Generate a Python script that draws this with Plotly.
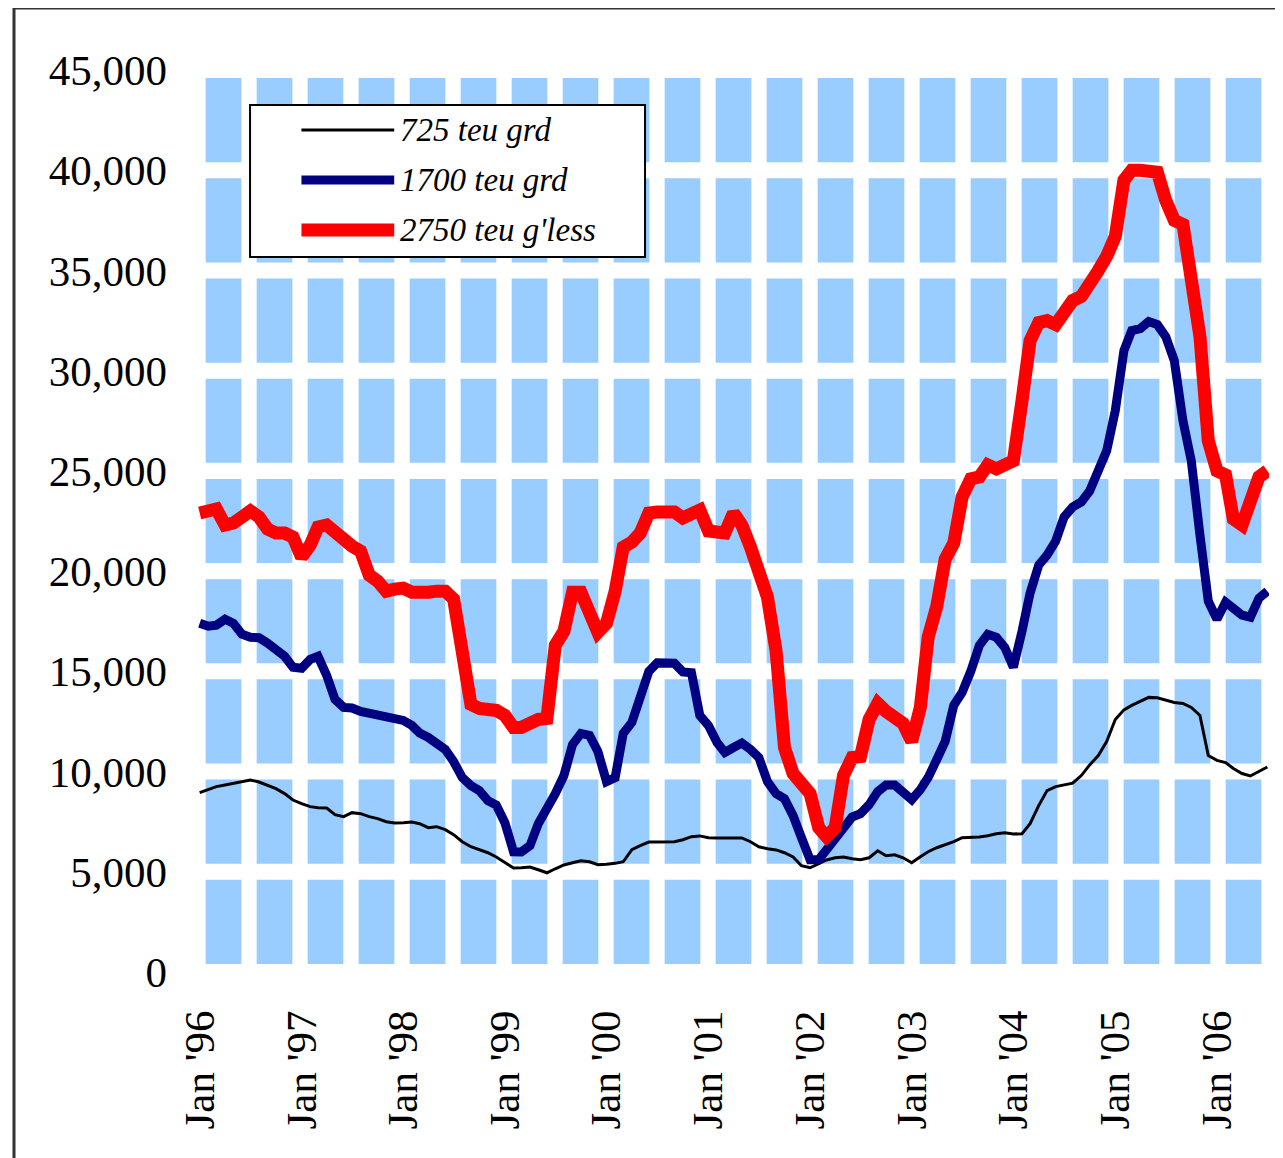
import pandas as pd
import plotly.graph_objects as go

# Monthly observations, Jan 1996 .. Jul 2006 (127 months)
months = pd.date_range("1996-01-01", periods=127, freq="MS")

teu725 = [
    8950, 9100, 9250, 9330, 9400, 9500, 9580, 9480, 9300, 9150, 8900, 8580,   # 1996
    8400, 8250, 8200, 8180, 7850, 7750, 7950, 7900, 7750, 7650, 7500, 7430,   # 1997
    7450, 7480, 7400, 7200, 7250, 7100, 6850, 6500, 6250, 6090, 5950, 5740,   # 1998
    5450, 5190, 5200, 5240, 5100, 4950, 5150, 5340, 5450, 5550, 5500, 5350,   # 1999
    5380, 5420, 5500, 6100, 6300, 6480, 6490, 6490, 6500, 6600, 6750, 6790,   # 2000
    6700, 6690, 6690, 6690, 6690, 6500, 6250, 6150, 6090, 5950, 5740, 5300,   # 2001
    5200, 5400, 5590, 5700, 5740, 5650, 5600, 5700, 6050, 5800, 5850, 5700,   # 2002
    5450, 5750, 6000, 6200, 6350, 6500, 6700, 6720, 6740, 6800, 6900, 6950,   # 2003
    6880, 6900, 7400, 8300, 9050, 9250, 9320, 9420, 9800, 10330, 10800, 11500,  # 2004
    12600, 13080, 13300, 13500, 13700, 13680, 13550, 13450, 13400, 13200, 12800, 10800,  # 2005
    10560, 10450, 10150, 9900, 9780, 10000, 10230,                           # 2006
]

teu1700 = [
    17400, 17250, 17300, 17600, 17400, 16850, 16700, 16680, 16400, 16050, 15750, 15200,
    15150, 15600, 15750, 14800, 13600, 13200, 13170, 13000, 12900, 12830, 12750, 12680,
    12550, 12300, 11920, 11700, 11400, 11100, 10500, 9700, 9300, 9050, 8550, 8330,
    7450, 6000, 5990, 6300, 7400, 8100, 8900, 9800, 11350, 11900, 11800, 11000,
    9500, 9700, 11900, 12450, 13800, 15000, 15420, 15420, 15400, 14970, 14930, 12800,
    12300, 11450, 10950, 11200, 11420, 11100, 10700, 9500, 8900, 8650, 7800, 6700,
    5600, 5600, 6100, 6550, 7100, 7730, 7900, 8350, 9000, 9330, 9330, 9000,
    8600, 9100, 9700, 10600, 11500, 13300, 13950, 15000, 16300, 16850, 16700, 16200,
    15200, 17000, 18900, 20300, 20800, 21500, 22700, 23200, 23450, 24000, 24900, 26000,
    28000, 31000, 32000, 32100, 32450, 32300, 31700, 30500, 27500, 25500, 21800, 18500,
    17600, 18450, 18150, 17800, 17700, 18650, 19000,
]

teu2750 = [
    22900, 23000, 23100, 22300, 22400, 22700, 23000, 22700, 22100, 21900, 21900, 21700,
    20700, 21300, 22200, 22300, 21900, 21450, 21250, 21000, 19800, 19500, 19000, 19100,
    19150, 18950, 18900, 18950, 19000, 19000, 18600, 16000, 13350, 13150, 13100, 13050,
    12800, 12200, 12200, 12450, 12600, 12650, 16300, 17000, 18950, 18950, 17700, 16950,
    17400, 19000, 21200, 21450, 21900, 22900, 22950, 22950, 22950, 22650, 22900, 23050,
    22000, 21900, 21900, 22900, 22300, 21200, 19900, 18700, 16000, 11200, 9900, 9500,
    8900, 7200, 6750, 7200, 9800, 10700, 10750, 12600, 13400, 13000, 12700, 12400,
    11500, 13200, 16700, 18250, 20600, 21400, 23700, 24600, 24700, 25300, 25100, 25300,
    25500, 28500, 31500, 32400, 32500, 32300, 33000, 33500, 33700, 34500, 35000, 35700,
    36700, 39500, 40000, 40000, 40000, 39900, 38500, 37500, 37300, 34000, 31700, 26500,
    25000, 24800, 22600, 22300, 23400, 24700, 25000,
]

series_names = ["725 teu grd", "1700 teu grd", "2750 teu g'less"]

year_ticks = [f"{y}-01-01" for y in range(1996, 2007)]
year_labels = ["Jan '96", "Jan '97", "Jan '98", "Jan '99", "Jan '00", "Jan '01",
               "Jan '02", "Jan '03", "Jan '04", "Jan '05", "Jan '06"]

y_ticks = [0, 5000, 10000, 15000, 20000, 25000, 30000, 35000, 40000, 45000]

# background column pattern: 21 half-year columns, each split into bands
band_slots = list(range(21))

FONT = "Liberation Serif"
band_gap = 400  # half of the white gap between bands (value units)

seg_x, seg_base, seg_h = [], [], []
for s in band_slots:
    for lo, hi in zip(y_ticks[:-1], y_ticks[1:]):
        seg_x.append(s)
        seg_base.append(lo + band_gap)
        seg_h.append(hi - lo - 2 * band_gap)

fig = go.Figure()
fig.add_trace(go.Bar(
    x=seg_x, y=seg_h, base=seg_base, width=0.7,
    marker=dict(color="#99CCFF", line=dict(width=0)),
    showlegend=False, hoverinfo="skip", xaxis="x", yaxis="y",
))

styles = [("#000000", 3), ("#000080", 9), ("#FF0000", 13)]
for name, vals, (col, w) in zip(series_names, [teu725, teu1700, teu2750], styles):
    fig.add_trace(go.Scatter(
        x=months, y=vals, name=name, mode="lines",
        line=dict(color=col, width=w),
        xaxis="x2", yaxis="y", showlegend=False,
    ))

# legend box drawn in paper coordinates (wide line samples as in the original)
shapes = [
    dict(type="rect", xref="paper", yref="paper",
         x0=-0.1718, x1=1.05, y0=-0.3, y1=1.0687,
         line=dict(color="#333333", width=3), fillcolor="rgba(0,0,0,0)",
         layer="below"),
    dict(type="rect", xref="paper", yref="paper",
         x0=0.0486, x1=0.4174, y0=0.7927, y1=0.9612,
         line=dict(color="black", width=2), fillcolor="white", layer="above"),
]
annotations = []
row_y = [0.9335, 0.8780, 0.8226]
for name, (col, w), ry in zip(series_names, styles, row_y):
    shapes.append(dict(type="line", xref="paper", yref="paper",
                       x0=0.0966, x1=0.1832, y0=ry, y1=ry,
                       line=dict(color=col, width=w), layer="above"))
    annotations.append(dict(text=name, xref="paper", yref="paper",
                            x=0.1867, y=ry, xanchor="left", yanchor="middle",
                            showarrow=False,
                            font=dict(family=FONT, size=33, color="black",
                                      style="italic")))

fig.update_layout(
    width=1275, height=1150,
    margin=dict(l=190, r=14, t=62, b=186),
    paper_bgcolor="white", plot_bgcolor="white",
    barmode="overlay", showlegend=False,
    font=dict(family=FONT, color="black"),
    xaxis=dict(range=[-0.5, 20.5], visible=False, fixedrange=True),
    xaxis2=dict(
        overlaying="x", side="bottom", type="date",
        range=["1995-12-26", "2006-07-07"],
        tickvals=year_ticks, ticktext=year_labels, tickangle=-90,
        tickfont=dict(family=FONT, size=43, color="black"),
        showgrid=False, zeroline=False, showline=False, ticks="",
        ticklabelstandoff=29,
    ),
    yaxis=dict(
        range=[0, 45000], tickvals=y_ticks, tickformat=",",
        tickfont=dict(family=FONT, size=43, color="black"),
        showgrid=False, zeroline=False, showline=False, ticks="",
        ticklabelstandoff=30,
    ),
    shapes=shapes,
    annotations=annotations,
)

fig.write_html("out.html")
